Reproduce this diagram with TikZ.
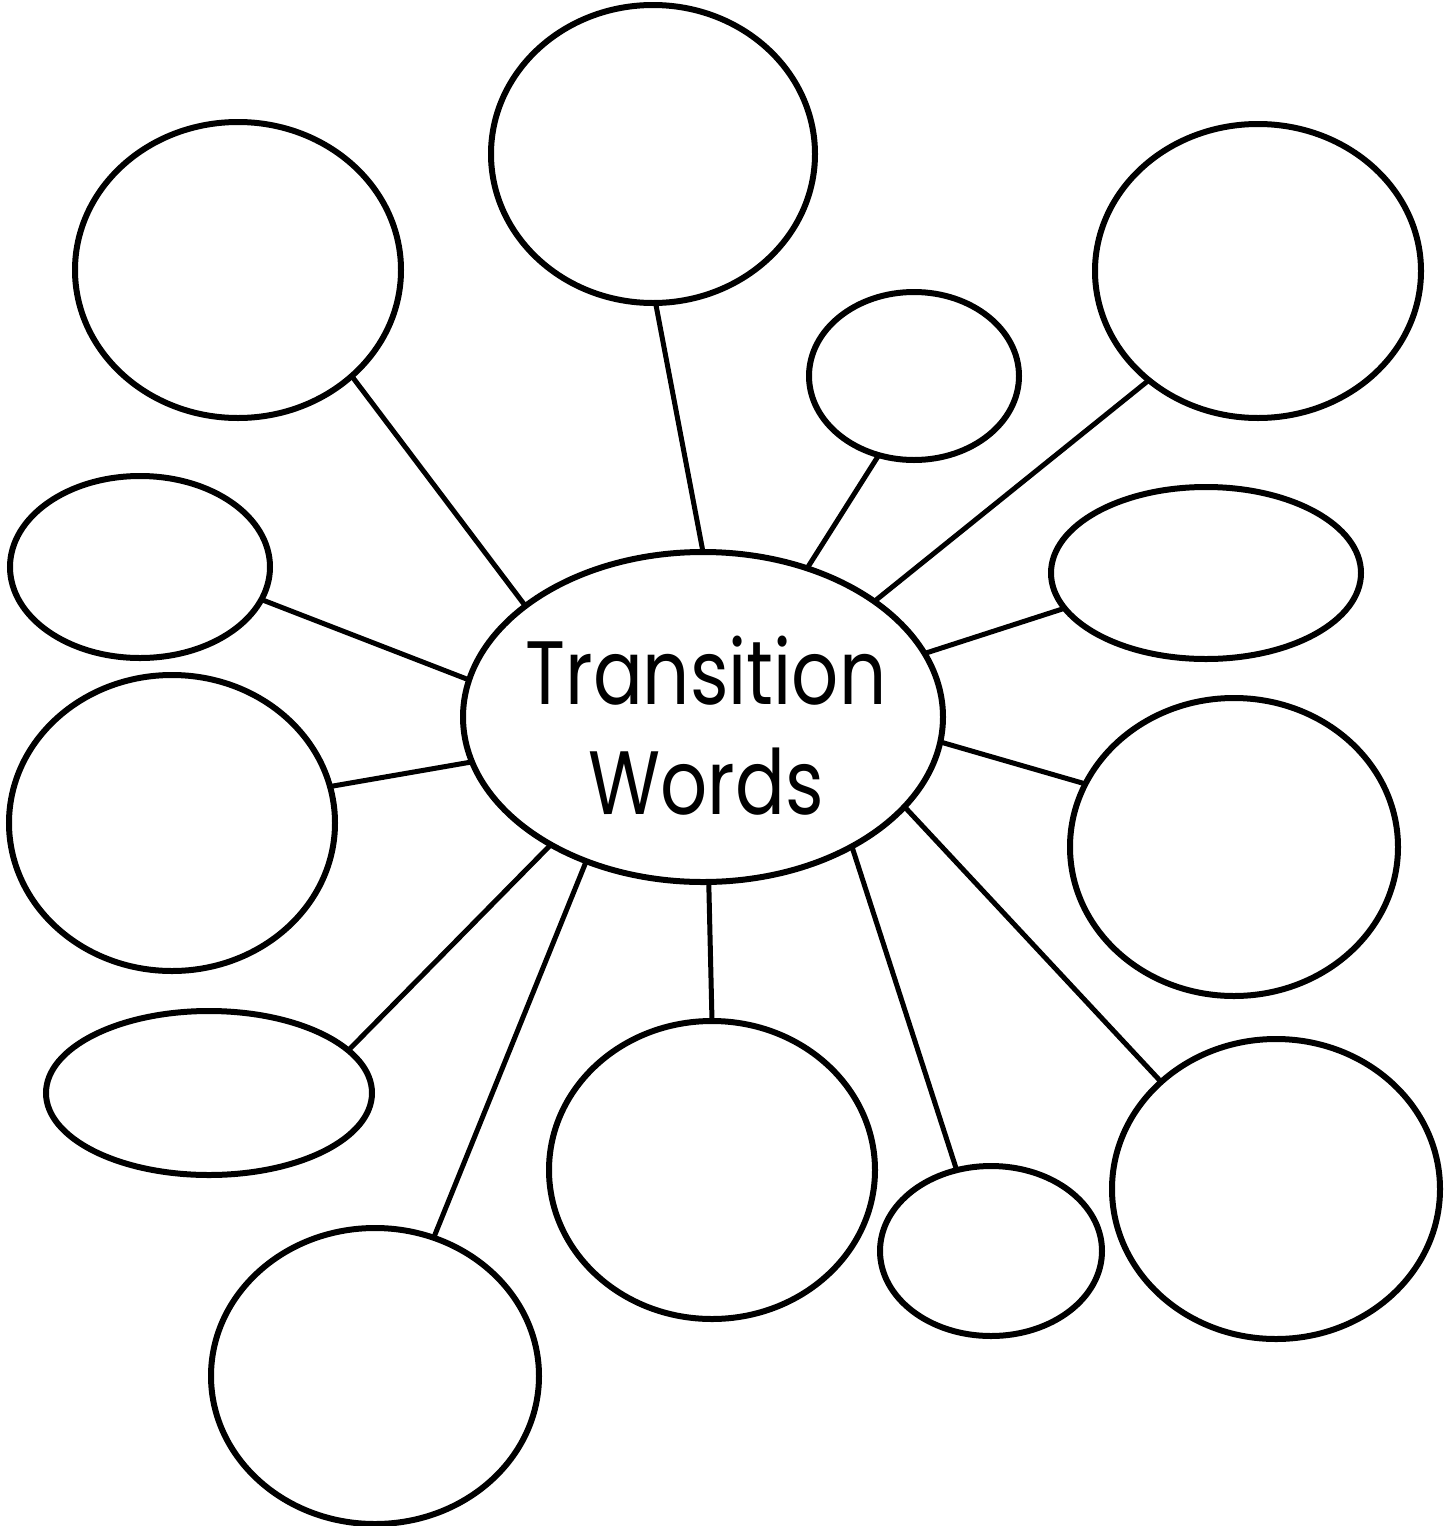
\documentclass[tikz,border=0pt]{standalone}
\usepackage{fontspec}
\usepackage{graphicx}
\setmainfont{Poppins}
\usetikzlibrary{shapes.geometric}
\tikzset{
  bubble/.style={ellipse, draw=black, line width=6pt, inner sep=0pt, outer sep=0pt, fill=white},
  spoke/.style={draw=black, line width=5pt},
}
\begin{document}
\begin{tikzpicture}[x=1pt,y=-1pt]
\useasboundingbox[fill=white] (0,0) rectangle (1450,1526);
\node[bubble, minimum width=480pt, minimum height=330pt] (c) at (703,717) {};
\node[bubble, minimum width=326pt, minimum height=296pt] (tl) at (238,270) {};
\node[bubble, minimum width=324pt, minimum height=298pt] (tc) at (653,154) {};
\node[bubble, minimum width=210pt, minimum height=168pt] (sur) at (914,376) {};
\node[bubble, minimum width=326pt, minimum height=294pt] (tr) at (1258,271) {};
\node[bubble, minimum width=260pt, minimum height=182pt] (lse) at (140,567) {};
\node[bubble, minimum width=310pt, minimum height=172pt] (rse) at (1206,573) {};
\node[bubble, minimum width=326pt, minimum height=296pt] (lc) at (172,823) {};
\node[bubble, minimum width=328pt, minimum height=298pt] (rc) at (1234,847) {};
\node[bubble, minimum width=326pt, minimum height=164pt] (ble) at (209,1093) {};
\node[bubble, minimum width=326pt, minimum height=298pt] (bc) at (712,1170) {};
\node[bubble, minimum width=328pt, minimum height=296pt] (blc) at (375,1376) {};
\node[bubble, minimum width=222pt, minimum height=170pt] (sbr) at (991,1251) {};
\node[bubble, minimum width=328pt, minimum height=300pt] (brc) at (1276,1189) {};
\node[font=\fontsize{90}{110}\selectfont, align=center] (t) at (706,726) {\scalebox{0.82}[1]{Transition}\\\scalebox{0.82}[1]{Words}};
\draw[spoke] (c.148) -- (tl.-43.2);
\draw[spoke] (c.90.3) -- (tc.-89.3);
\draw[spoke] (c.55.3) -- (sur.-114.3);
\draw[spoke] (c.34.3) -- (tr.-135.5);
\draw[spoke] (c.171.8) -- (lse.-15.9);
\draw[spoke] (c.16.8) -- (rse.-166.8);
\draw[spoke] (c.191.4) -- (lc.13.2);
\draw[spoke] (c.-6.7) -- (rc.157.2);
\draw[spoke] (c.220.1) -- (ble.17.5);
\draw[spoke] (c.231.2) -- (blc.67.6);
\draw[spoke] (c.-88.6) -- (bc.90);
\draw[spoke] (c.-41.5) -- (sbr.113.3);
\draw[spoke] (c.-24.8) -- (brc.137.6);
\end{tikzpicture}
\end{document}
